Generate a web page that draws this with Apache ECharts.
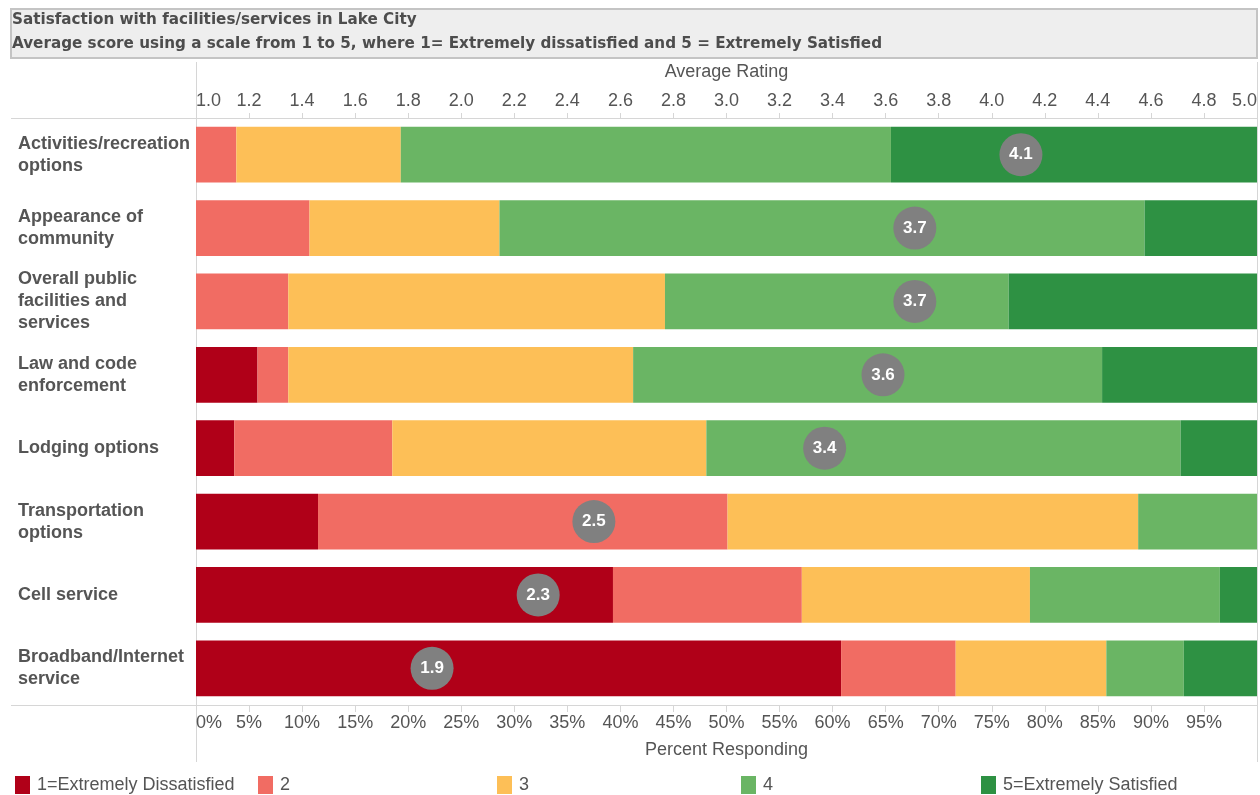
<!DOCTYPE html>
<html>
<head>
<meta charset="utf-8">
<script src="https://cdn.jsdelivr.net/npm/echarts@6/dist/echarts.min.js"></script>
<style>
html,body{margin:0;padding:0;background:#fff;}
#chart{width:1260px;height:795px;}
</style>
</head>
<body>
<div id="chart"></div>
<script>
const titleLine1 = 'Satisfaction with facilities/services in Lake City';
const titleLine2 = 'Average score using a scale from 1 to 5, where 1= Extremely dissatisfied and 5 = Extremely Satisfied';
const categories = [
  'Activities/recreation\noptions',
  'Appearance of\ncommunity',
  'Overall public\nfacilities and\nservices',
  'Law and code\nenforcement',
  'Lodging options',
  'Transportation\noptions',
  'Cell service',
  'Broadband/Internet\nservice'
];
const seriesNames = ['1=Extremely Dissatisfied', '2', '3', '4', '5=Extremely Satisfied'];
const pct1 = [0, 0, 0, 5.8, 3.6, 11.5, 39.3, 60.8];
const pct2 = [3.8, 10.7, 8.7, 2.9, 14.9, 38.6, 17.8, 10.8];
const pct3 = [15.5, 17.9, 35.5, 32.5, 29.6, 38.7, 21.5, 14.2];
const pct4 = [46.2, 60.8, 32.4, 44.2, 44.7, 11.2, 17.9, 7.3];
const pct5 = [34.5, 10.6, 23.4, 14.6, 7.2, 0, 3.5, 6.9];
const avgRating = [4.11, 3.71, 3.71, 3.59, 3.37, 2.50, 2.29, 1.89];
const colors = ['#b00018', '#f16c63', '#fdbf57', '#6ab564', '#2e9143'];

const pctData = [pct1, pct2, pct3, pct4, pct5];
const chart = echarts.init(document.getElementById('chart'));

const txt = '#555555';
const lineCol = '#d6d6d6';
const font = 'Liberation Sans, Arial, sans-serif';

const barSeries = seriesNames.map((name, k) => ({
  name: name,
  type: 'bar',
  stack: 'total',
  xAxisIndex: 0,
  yAxisIndex: 0,
  barCategoryGap: '24%',
  itemStyle: { color: colors[k] },
  emphasis: { disabled: true },
  data: pctData[k]
}));

const legendLefts = [15, 258, 497, 741, 981];

const option = {
  animation: false,
  textStyle: { fontFamily: font },
  grid: { left: 196, right: 3, top: 118, bottom: 90, containLabel: false },
  legend: seriesNames.map((n, k) => ({
    data: [n],
    left: legendLefts[k],
    top: 776,
    padding: 0,
    itemWidth: 15,
    itemHeight: 18,
    icon: 'rect',
    textStyle: { color: txt, fontSize: 18, fontFamily: font, padding: [0, 0, 0, 2] },
    selectedMode: false
  })),
  xAxis: [
    {
      type: 'value', position: 'bottom', min: 0, max: 100, interval: 5,
      name: 'Percent Responding', nameLocation: 'middle', nameGap: 36,
      nameTextStyle: { color: txt, fontSize: 18, fontFamily: font },
      axisLine: { show: true, lineStyle: { color: lineCol, width: 1 } },
      axisTick: { show: true, length: 7, lineStyle: { color: lineCol } },
      splitLine: { show: false },
      axisLabel: {
        color: txt, fontSize: 18, fontFamily: font, margin: 9,
        alignMinLabel: 'left', showMaxLabel: false,
        formatter: v => (v >= 100 ? '' : v + '%')
      }
    },
    {
      type: 'value', position: 'top', min: 1, max: 5, interval: 0.2,
      name: 'Average Rating', nameLocation: 'middle', nameGap: 37,
      nameTextStyle: { color: txt, fontSize: 18, fontFamily: font },
      axisLine: { show: true, lineStyle: { color: lineCol, width: 1 } },
      axisTick: { show: true, length: 5, lineStyle: { color: lineCol } },
      splitLine: { show: false },
      axisLabel: {
        color: txt, fontSize: 18, fontFamily: font, margin: 8,
        alignMinLabel: 'left', alignMaxLabel: 'right',
        showMinLabel: true, showMaxLabel: true, hideOverlap: false,
        formatter: v => v.toFixed(1)
      }
    }
  ],
  yAxis: {
    type: 'category', inverse: true, data: categories,
    axisLine: { show: false }, axisTick: { show: false },
    axisLabel: {
      color: txt, fontSize: 18, fontWeight: 'bold', fontFamily: font,
      align: 'left', margin: 178, lineHeight: 22
    }
  },
  series: barSeries.concat([{
    type: 'scatter',
    xAxisIndex: 1,
    yAxisIndex: 0,
    symbol: 'circle',
    symbolSize: 43,
    itemStyle: { color: '#808080', opacity: 1 },
    emphasis: { disabled: true },
    z: 10,
    label: {
      show: true, position: 'inside', color: '#ffffff', fontSize: 17,
      fontWeight: 'bold', fontFamily: font,
      formatter: p => p.value[0].toFixed(1)
    },
    data: avgRating.map((v, i) => [v, categories[i]])
  }]),
  graphic: [
    {
      type: 'rect', left: 10, top: 8, z: 1,
      shape: { width: 1246, height: 49 },
      style: { fill: '#eeeeee', stroke: '#c4c4c4', lineWidth: 2 }
    },
    {
      type: 'text', left: 12, top: 13, z: 2,
      style: { text: titleLine1, fill: '#4d4d4d', font: 'bold 15.2px "DejaVu Sans"' }
    },
    {
      type: 'text', left: 12, top: 37, z: 2,
      style: { text: titleLine2, fill: '#4d4d4d', font: 'bold 15.2px "DejaVu Sans"' }
    },
    { type: 'line', z: 0, shape: { x1: 11, y1: 118.5, x2: 1257, y2: 118.5 }, style: { stroke: lineCol, lineWidth: 1 } },
    { type: 'line', z: 0, shape: { x1: 11, y1: 705.5, x2: 1257, y2: 705.5 }, style: { stroke: lineCol, lineWidth: 1 } },
    { type: 'line', z: 0, shape: { x1: 196.5, y1: 62, x2: 196.5, y2: 762 }, style: { stroke: lineCol, lineWidth: 1 } },
    { type: 'line', z: 0, shape: { x1: 1257.5, y1: 62, x2: 1257.5, y2: 762 }, style: { stroke: lineCol, lineWidth: 1 } }
  ]
};
chart.setOption(option);
</script>
</body>
</html>
